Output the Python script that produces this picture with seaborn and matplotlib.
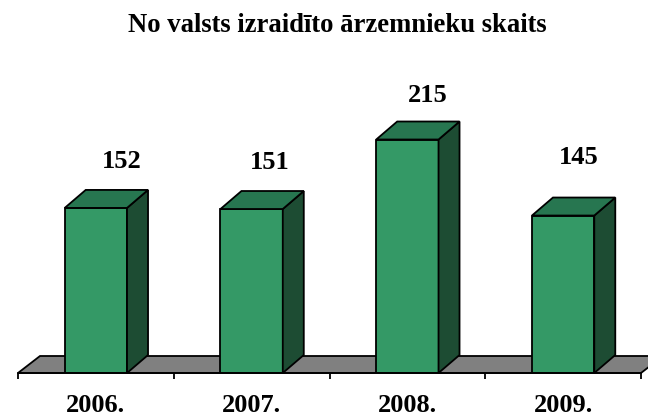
import matplotlib
matplotlib.use("Agg")
import matplotlib.pyplot as plt
import seaborn as sns
import pandas as pd
from matplotlib.patches import Polygon

# Expelled foreigners per year
years = ["2006.", "2007.", "2008.", "2009."]
counts = [152, 151, 215, 145]

FRONT = "#349966"
TOP = "#277650"
SIDE = "#1d4c33"
FLOOR = "#808080"

sns.set_theme(style="white")
plt.rcParams["font.family"] = ["Liberation Serif", "DejaVu Serif"]
plt.rcParams["text.color"] = "black"

W, H = 648, 416
fig = plt.figure(figsize=(W / 100, H / 100), dpi=100)
ax = fig.add_axes([18 / W, 43 / H, 623 / W, 271.5 / H])

df = pd.DataFrame({"year": years, "count": counts})
sns.barplot(data=df, x="year", y="count", color=FRONT, width=0.4,
            saturation=1, edgecolor="black", linewidth=1.3, ax=ax, zorder=3)

ax.set_xlim(-0.5, len(years) - 0.5)
ax.set_ylim(0, 250)

# depth offset of the 3D faces, converted from pixels to data units
px_x = 623 / len(years)
px_y = 271.5 / 250
ddx = 21 / px_x
ddy = 18 / px_y

bars = list(ax.patches)

# grey floor
x_lo, x_hi = -0.5, len(years) - 0.5
fdx, fdy = 22 / px_x, 17 / px_y
floor = Polygon([(x_lo, 0), (x_hi, 0), (x_hi + fdx, fdy), (x_lo + fdx, fdy)],
                closed=True, facecolor=FLOOR, edgecolor="black", lw=1.3,
                zorder=1, clip_on=False)
ax.add_patch(floor)

# side and top faces of each bar
for bar in bars:
    x0 = bar.get_x()
    x1 = x0 + bar.get_width()
    h = bar.get_height()
    side = Polygon([(x1, 0), (x1 + ddx, ddy), (x1 + ddx, h + ddy), (x1, h)],
                   closed=True, facecolor=SIDE, edgecolor="black", lw=1.3,
                   zorder=3, clip_on=False)
    top = Polygon([(x0, h), (x1, h), (x1 + ddx, h + ddy), (x0 + ddx, h + ddy)],
                  closed=True, facecolor=TOP, edgecolor="black", lw=1.3,
                  zorder=3, clip_on=False)
    ax.add_patch(side)
    ax.add_patch(top)

# value labels above the bars (perspective nudges, in pixels)
nudge_x = [26, 18, 20, 16]
nudge_y = [46, 47, 44, 58]
for i, v in enumerate(counts):
    ax.annotate(f"{v}", xy=(i, v), xytext=(nudge_x[i], nudge_y[i]),
                textcoords="offset pixels", ha="center", va="center",
                fontsize=19, fontweight="bold", color="black",
                annotation_clip=False)

# axis: only the baseline with category boundary ticks
for s in ["top", "left", "right"]:
    ax.spines[s].set_visible(False)
ax.spines["bottom"].set_color("black")
ax.spines["bottom"].set_linewidth(1.3)
ax.spines["bottom"].set_zorder(4)
ax.set_yticks([])
ax.set_xticks([i - 0.5 for i in range(len(years) + 1)])
ax.set_xticklabels([])
ax.set_xticks(range(len(years)), minor=True)
ax.set_xticklabels(years, minor=True, fontsize=19, fontweight="bold",
                   color="black")
ax.tick_params(axis="x", which="major", direction="out", length=4.5,
               width=1.3, color="black", bottom=True)
ax.tick_params(axis="x", which="minor", length=0, pad=15)
ax.set_xlabel("")
ax.set_ylabel("")
ax.patch.set_visible(False)

fig.text(337 / W, 1 - 25 / H, "No valsts izraidīto ārzemnieku skaits",
         ha="center", va="center", fontsize=19.2, fontweight="bold",
         color="black")

fig.savefig("out.png", dpi=100)
